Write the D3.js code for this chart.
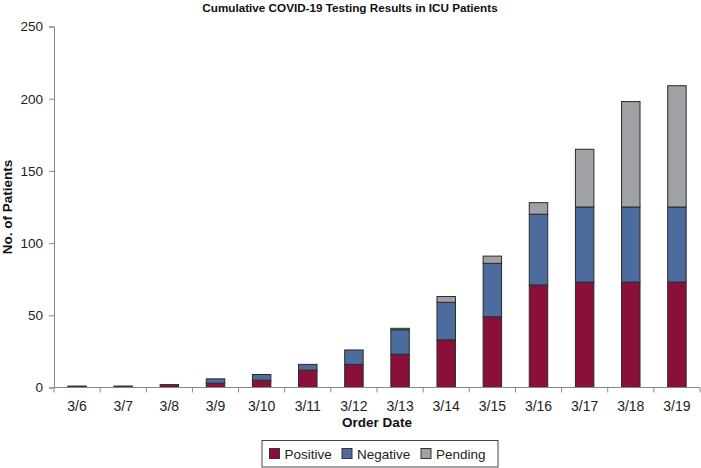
<!DOCTYPE html>
<html><head><meta charset="utf-8">
<script src="https://cdn.jsdelivr.net/npm/d3@7/dist/d3.min.js"></script>
<style>body{margin:0;background:#fff;} svg{display:block;font-family:"Liberation Sans",Arial,Helvetica,sans-serif;}</style>
</head><body>
<svg id="c" width="701" height="468"></svg>
<script>
const categories = ["3/6","3/7","3/8","3/9","3/10","3/11","3/12","3/13","3/14","3/15","3/16","3/17","3/18","3/19"];
const positive = [1,1,2,3,5,12,16,23,33,49,71,73,73,73];
const negative = [0,0,0,3,4,4,10,17,26,37,49,52,52,52];
const pending  = [0,0,0,0,0,0,0,1,4,5,8,40,73,84];
const seriesNames = ["Positive","Negative","Pending"];
const colors = ["#8a0f3b","#4b6c9c","#a0a1a5"];
const yTicks = [0,50,100,150,200,250];

const svg = d3.select("#c");
const m = {left:54, right:700, top:26.5, bottom:387.5};
const x = d3.scaleBand().domain(categories).range([m.left, m.right]).paddingInner(0.6).paddingOuter(0.3);
const y = d3.scaleLinear().domain([0,250]).range([m.bottom, m.top]);

const rows = categories.map((c,i)=>({cat:c, Positive:positive[i], Negative:negative[i], Pending:pending[i]}));
const stack = d3.stack().keys(seriesNames)(rows);

svg.append("g").selectAll("g").data(stack).join("g")
  .attr("fill",(d,i)=>colors[i])
  .selectAll("rect").data(d=>d.filter(p=>p[1]-p[0]>0)).join("rect")
  .attr("x",d=>x(d.data.cat))
  .attr("width",x.bandwidth())
  .attr("y",d=>y(d[1]))
  .attr("height",d=>y(d[0])-y(d[1]))
  .attr("stroke","#2a2a2a").attr("stroke-width",1);

// y axis
const ya = svg.append("g").attr("transform",`translate(${m.left},0)`)
  .call(d3.axisLeft(y).tickValues(yTicks).tickSize(5).tickPadding(6));
ya.select(".domain").attr("stroke","#888");
ya.selectAll(".tick line").attr("stroke","#888");
ya.selectAll("text").attr("font-size",13.5).attr("fill","#222").attr("font-family","inherit");

// x axis with ticks at category boundaries
const xa = svg.append("g").attr("transform",`translate(0,${m.bottom})`);
xa.append("line").attr("x1",m.left).attr("x2",m.right).attr("stroke","#888");
const bounds = d3.range(categories.length+1).map(i=>m.left + i*(m.right-m.left)/categories.length);
xa.selectAll("line.t").data(bounds).join("line").attr("class","t")
  .attr("x1",d=>d).attr("x2",d=>d).attr("y1",0).attr("y2",5).attr("stroke","#888");
xa.selectAll("text").data(categories).join("text")
  .attr("x",d=>x(d)+x.bandwidth()/2).attr("y",23)
  .attr("text-anchor","middle").attr("font-size",14).attr("fill","#222").text(d=>d);

svg.append("text").attr("x",350).attr("y",12).attr("text-anchor","middle")
  .attr("font-weight","bold").attr("font-size",11.7).attr("fill","#111")
  .text("Cumulative COVID-19 Testing Results in ICU Patients");
svg.append("text").attr("x",377).attr("y",427).attr("text-anchor","middle")
  .attr("font-weight","bold").attr("font-size",13.5).attr("fill","#111").text("Order Date");
svg.append("text").attr("transform","translate(12,207) rotate(-90)").attr("text-anchor","middle")
  .attr("font-weight","bold").attr("font-size",13.5).attr("fill","#111").text("No. of Patients");

// legend
const lg = svg.append("g");
lg.append("rect").attr("x",262).attr("y",440.5).attr("width",236).attr("height",26.5)
  .attr("fill","#fff").attr("stroke","#444");
const lx = [269.5,342,421];
seriesNames.forEach((s,i)=>{
  lg.append("rect").attr("x",lx[i]).attr("y",448.5).attr("width",10).attr("height",10)
    .attr("fill",colors[i]).attr("stroke","#333");
  lg.append("text").attr("x",lx[i]+15).attr("y",458.5).attr("font-size",13.5).attr("fill","#222").text(s);
});
</script>
</body></html>
